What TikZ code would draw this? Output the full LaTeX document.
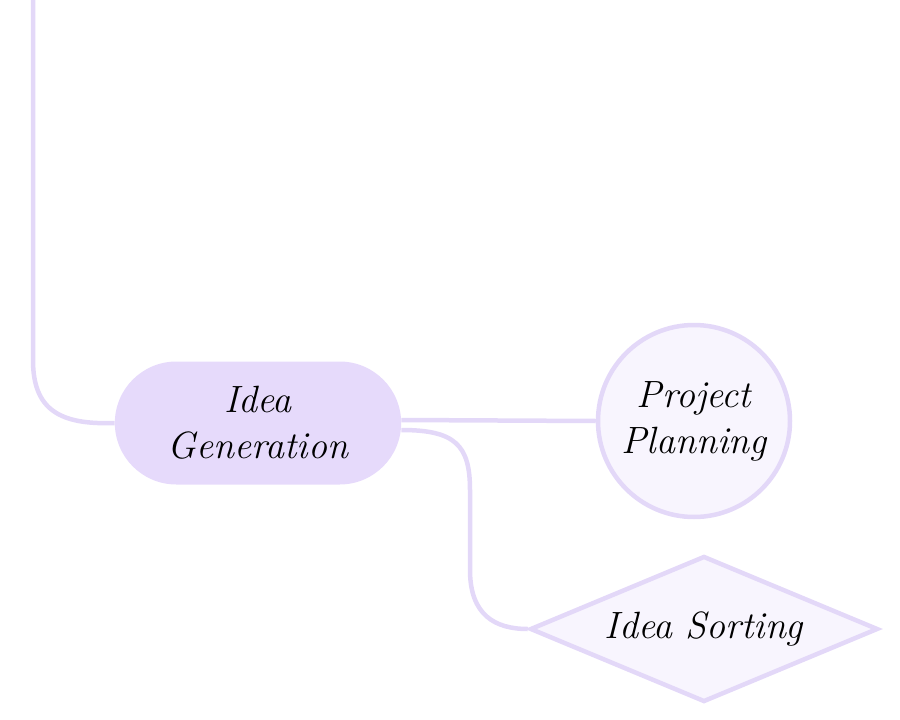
\documentclass[tikz,border=0pt]{standalone}
\usetikzlibrary{shapes.geometric,shapes.misc}
\definecolor{linkcol}{HTML}{E3D8F8}
\definecolor{rootfill}{HTML}{E6DAFB}
\definecolor{leaffill}{HTML}{F8F5FE}
\tikzset{
  link/.style={draw=linkcol,line width=4.5pt},
  rootbox/.style={rounded rectangle,fill=rootfill,minimum width=293pt,minimum height=123pt,align=center},
  circbox/.style={circle,draw=linkcol,line width=4.5pt,fill=leaffill,minimum size=192pt,inner sep=0pt,align=center},
  diabox/.style={diamond,draw=linkcol,line width=4.5pt,fill=leaffill,minimum width=348pt,minimum height=146pt,aspect=2.4,inner sep=0pt}
}
\begin{document}
\begin{tikzpicture}[x=1pt,y=-1pt,font=\fontsize{38}{46}\selectfont\itshape]
\useasboundingbox (0,0) rectangle (900,720);
% nodes
\node[rootbox] (gen) at (258,423) {Idea\\Generation};
\node[circbox] (plan) at (694,421) {Project\\Planning};
\node[diabox] (sort) at (704,629) {Idea Sorting};
\coordinate (top) at (33,0);
% links
\draw[link] (top) -- (33,360) .. controls (33,410) and (60,425) .. (gen.west);
\draw[link] (gen.east |- 0,420) -- (plan.west);
\draw[link] (gen.east |- 0,430) .. controls (455,430) and (470,445) .. (470,490)
  -- (470,570) .. controls (470,615) and (495,629) .. (sort.west);
\end{tikzpicture}
\end{document}
